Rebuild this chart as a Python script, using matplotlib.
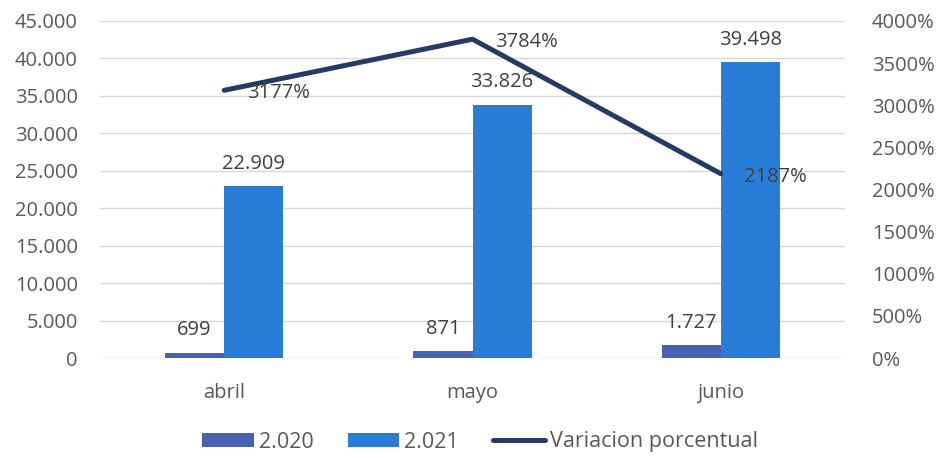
import matplotlib.pyplot as plt
import numpy as np
from matplotlib.ticker import FuncFormatter, MultipleLocator

months = ["abril", "mayo", "junio"]
values_2020 = [699, 871, 1727]
values_2021 = [22909, 33826, 39498]
variacion = [3177, 3784, 2187]

plt.rcParams['font.family'] = ['Open Sans', 'DejaVu Sans']
text_color = '#595959'
label_color = '#404040'
c2020 = '#4662B0'
c2021 = '#2A7DD6'
cline = '#253B66'
fs = 14.5


def miles(v):
    return f"{v:,.0f}".replace(",", ".")


fig = plt.figure(figsize=(9.38, 4.58), dpi=100)
ax = fig.add_axes([100 / 938, 1 - 358 / 458, 745 / 938, 337 / 458])
x = np.arange(len(months))
w = 0.238

b1 = ax.bar(x - w / 2, values_2020, w, color=c2020, label='2.020')
b2 = ax.bar(x + w / 2, values_2021, w, color=c2021, label='2.021')
for bars, vals in ((b1, values_2020), (b2, values_2021)):
    for rect, v in zip(bars, vals):
        ax.annotate(miles(v), (rect.get_x() + rect.get_width() / 2, v),
                    textcoords='offset points', xytext=(0, 9), ha='center',
                    va='bottom', fontsize=fs, color=label_color)

ax.set_xlim(-0.5, 2.5)
ax.set_ylim(0, 45000)
ax.yaxis.set_major_locator(MultipleLocator(5000))
ax.yaxis.set_major_formatter(FuncFormatter(lambda v, p: miles(v)))
ax.set_xticks(x)
ax.set_xticklabels(months)
ax.grid(axis='y', color='#D9D9D9', linewidth=1)
ax.set_axisbelow(True)
for s in ax.spines.values():
    s.set_visible(False)
ax.tick_params(length=0, labelsize=fs, colors=text_color, pad=16)
ax.tick_params(axis='x', pad=18)

ax2 = ax.twinx()
ln, = ax2.plot(x, variacion, color=cline, linewidth=3.6, label='Variacion porcentual',
               solid_capstyle='round')
ax2.set_ylim(0, 4000)
ax2.yaxis.set_major_locator(MultipleLocator(500))
ax2.yaxis.set_major_formatter(FuncFormatter(lambda v, p: f"{v:.0f}%"))
for s in ax2.spines.values():
    s.set_visible(False)
ax2.tick_params(length=0, labelsize=fs, colors=text_color, pad=19.5)
for xi, v in zip(x, variacion):
    ax2.annotate(f"{v}%", (xi, v), textcoords='offset points', xytext=(16.5, -2),
                 ha='left', va='center', fontsize=fs, color=label_color)

handles = [b1, b2, ln]
fig.legend(handles, [h.get_label() for h in handles], loc='center',
           bbox_to_anchor=(480 / 938, 1 - 442 / 458), ncol=3, frameon=False,
           fontsize=15.5, labelcolor=text_color, handlelength=2.4, handleheight=0.6,
           columnspacing=1.6, handletextpad=0.23)

fig.savefig('out.png', dpi=100)
